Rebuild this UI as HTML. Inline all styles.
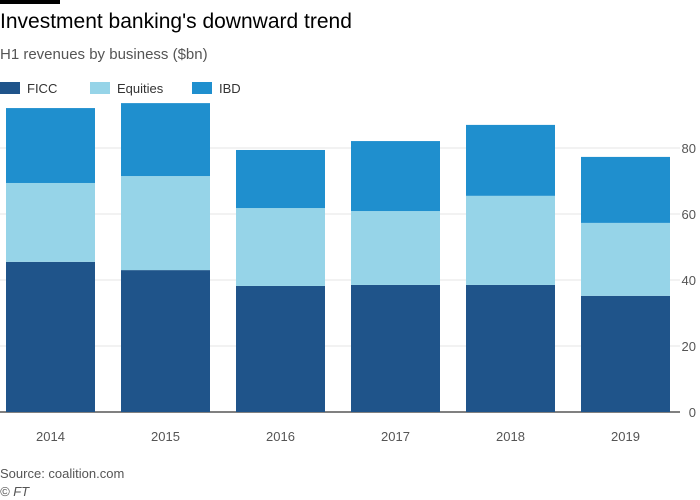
<!DOCTYPE html>
<html><head><meta charset="utf-8"><style>
body{margin:0;background:#fff;font-family:"Liberation Sans",sans-serif;}
#wrap{position:relative;width:700px;height:500px;overflow:hidden;background:#fff}
</style></head><body>
<div id="wrap">
<div style="position:absolute;left:0;top:0;width:60px;height:4px;background:#000"></div>
<div style="position:absolute;left:0;top:10px;font-size:21px;color:#000">Investment banking's downward trend</div>
<div style="position:absolute;left:0;top:46px;font-size:15px;color:#555">H1 revenues by business ($bn)</div>
<svg id="chart" width="700" height="500" style="position:absolute;left:0;top:0"></svg>
<div style="position:absolute;left:0;top:466px;font-size:13px;color:#555">Source: coalition.com</div>
<div style="position:absolute;left:0;top:484px;font-size:13px;color:#555;font-style:italic">© FT</div>
</div>
<script>
const years=["2014","2015","2016","2017","2018","2019"];
const ficc=[45.5,43,38.2,38.5,38.5,35.2];
const equities=[23.9,28.5,23.6,22.4,27,22.1];
const ibd=[22.7,22.1,17.6,21.2,21.5,20];
const yTicks=[0,20,40,60,80];
const seriesNames=["FICC","Equities","IBD"];
const colors=["#1f548a","#96d4e8","#1f8fce"];
const svg=document.getElementById('chart');
const NS="http://www.w3.org/2000/svg";
const y0=412,ppu=3.3;
const y=v=>y0-v*ppu;
const x=i=>6+i*115;
const bw=89;
function mk(t,a){const e=document.createElementNS(NS,t);for(const k in a)e.setAttribute(k,a[k]);svg.appendChild(e);return e;}
yTicks.forEach(t=>{
 const l=mk('line',{x1:0,x2:680,y1:y(t),y2:y(t),stroke:t===0?'#000':'#e6e6e6','stroke-width':1});
 
 
 const tx=mk('text',{x:696,y:y(t)+5,'text-anchor':'end','font-size':13,fill:'#555','font-family':'Liberation Sans'});
 tx.textContent=t;
 
 
});
const series=[ficc,equities,ibd];
years.forEach((yr,i)=>{
 let base=0;
 series.forEach((s,k)=>{
  const r=mk('rect',{x:x(i),y:y(base+s[i]),width:bw,height:s[i]*ppu,fill:colors[k]});
  
  
  base+=s[i];
 });
 const tx=mk('text',{x:x(i)+bw/2,y:y0+29,'text-anchor':'middle','font-size':13,fill:'#555','font-family':'Liberation Sans'});
 tx.textContent=yr;
 
 
});
const lx=[0,90,192];
seriesNames.forEach((n,k)=>{
 const r=mk('rect',{x:lx[k],y:82,width:20,height:12,fill:colors[k]});
 
 
 const t=mk('text',{x:lx[k]+27,y:93,'font-size':13,fill:'#333','font-family':'Liberation Sans'});
 t.textContent=n;
 
 
});
</script>
</body></html>
